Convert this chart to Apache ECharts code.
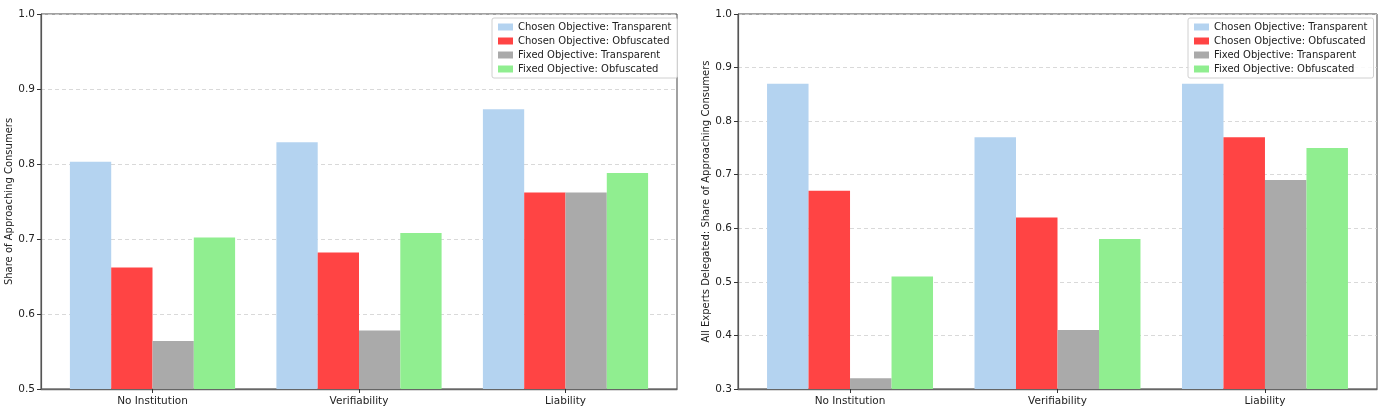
<!DOCTYPE html>
<html>
<head>
<meta charset="utf-8">
<script src="https://cdn.jsdelivr.net/npm/echarts@6/dist/echarts.min.js"></script>
<style>html,body{margin:0;padding:0;background:#fff}#c{width:1386px;height:414px}</style>
</head>
<body>
<div id="c"></div>
<script>
const categories = ['No Institution', 'Verifiability', 'Liability'];
const seriesNames = ['Chosen Objective: Transparent', 'Chosen Objective: Obfuscated', 'Fixed Objective: Transparent', 'Fixed Objective: Obfuscated'];
const colors = ['#b4d3f0', '#ff4444', '#aaaaaa', '#90ee90'];
// Left panel: Share of Approaching Consumers
const leftChosenTransparent = [0.803, 0.829, 0.873];
const leftChosenObfuscated = [0.662, 0.682, 0.762];
const leftFixedTransparent = [0.564, 0.578, 0.762];
const leftFixedObfuscated = [0.702, 0.708, 0.788];
// Right panel: All Experts Delegated
const rightChosenTransparent = [0.87, 0.77, 0.87];
const rightChosenObfuscated = [0.67, 0.62, 0.77];
const rightFixedTransparent = [0.32, 0.41, 0.69];
const rightFixedObfuscated = [0.51, 0.58, 0.75];
const leftYTicks = [0.5, 0.6, 0.7, 0.8, 0.9, 1.0];
const rightYTicks = [0.3, 0.4, 0.5, 0.6, 0.7, 0.8, 0.9, 1.0];

const FONT = 'DejaVu Sans';
const chart = echarts.init(document.getElementById('c'), null, {renderer: 'canvas'});

function xAxisDef(gi) {
  return {
    type: 'value', gridIndex: gi, min: -0.54, max: 2.54,
    axisLine: {show: true, onZero: false, lineStyle: {color: '#666', width: 1.4}},
    axisTick: {show: true, customValues: [0, 1, 2], length: 4, lineStyle: {color: '#333'}},
    axisLabel: {show: true, customValues: [0, 1, 2], color: '#222', fontFamily: FONT, fontSize: 10.5, margin: 7,
      formatter: v => categories[Math.round(v)] || ''},
    splitLine: {show: false}
  };
}
function yAxisDef(gi, ticks, name, gap) {
  return {
    type: 'value', gridIndex: gi, min: ticks[0], max: ticks[ticks.length - 1], interval: 0.1,
    name: name, nameLocation: 'middle', nameGap: gap, nameRotate: 90,
    nameTextStyle: {color: '#222', fontFamily: FONT, fontSize: 10},
    axisLine: {show: true, onZero: false, lineStyle: {color: '#555', width: 1.2}},
    axisTick: {show: true, length: 4, lineStyle: {color: '#333'}},
    axisLabel: {color: '#222', fontFamily: FONT, fontSize: 10.5, margin: 6, formatter: v => v.toFixed(1)},
    splitLine: {show: true, lineStyle: {type: [4, 3], color: '#cfcfcf', width: 0.8}}
  };
}
function legendDef(left, top) {
  return {
    data: seriesNames, orient: 'vertical', left: left, top: top,
    itemWidth: 15, itemHeight: 7, itemGap: 4,
    padding: [4, 6, 4, 6], borderColor: '#d0d0d0', borderWidth: 1, borderRadius: 2,
    backgroundColor: 'rgba(255,255,255,0.85)',
    textStyle: {color: '#222', fontFamily: FONT, fontSize: 10}, icon: 'rect'
  };
}
function barSeries(gi, name, color, values) {
  return {
    type: 'bar', name: name, xAxisIndex: gi, yAxisIndex: gi,
    data: values.map((v, i) => [i, v]),
    barWidth: '20%', barGap: '0%',
    itemStyle: {color: color}, emphasis: {disabled: true}, animation: false
  };
}
const leftData = [leftChosenTransparent, leftChosenObfuscated, leftFixedTransparent, leftFixedObfuscated];
const rightData = [rightChosenTransparent, rightChosenObfuscated, rightFixedTransparent, rightFixedObfuscated];

const series = [];
leftData.forEach((d, k) => series.push(barSeries(0, seriesNames[k], colors[k], d)));
rightData.forEach((d, k) => series.push(barSeries(1, seriesNames[k], colors[k], d)));

chart.setOption({
  animation: false,
  backgroundColor: '#fff',
  grid: [
    {left: 41, top: 14, width: 636, height: 375, show: true, borderColor: '#444', borderWidth: 1, containLabel: false},
    {left: 738, top: 14, width: 639, height: 375, show: true, borderColor: '#444', borderWidth: 1, containLabel: false}
  ],
  xAxis: [xAxisDef(0), xAxisDef(1)],
  yAxis: [yAxisDef(0, leftYTicks, 'Share of Approaching Consumers', 26),
          yAxisDef(1, rightYTicks, 'All Experts Delegated: Share of Approaching Consumers', 26)],
  legend: [legendDef(492, 18), legendDef(1188, 18)],
  series: series
});
</script>
</body>
</html>
